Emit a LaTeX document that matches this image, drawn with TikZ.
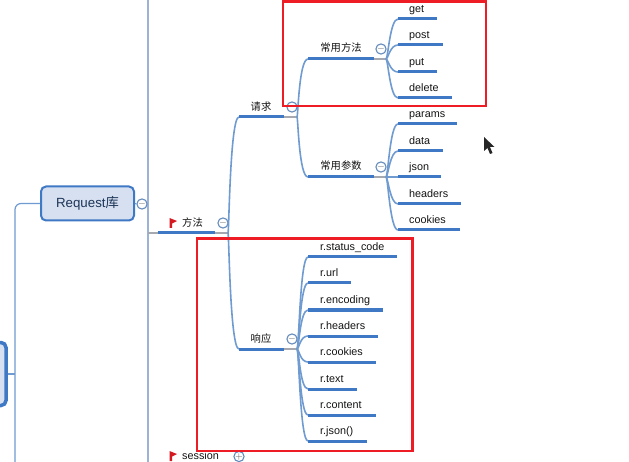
\documentclass[tikz,border=0pt]{standalone}
\usepackage{fontspec}
\setmainfont{Liberation Sans}
\newfontfamily\cjk{Noto Sans CJK SC}
\definecolor{branchblue}{HTML}{6F9BD0}
\definecolor{linkblue}{HTML}{3F79C6}
\definecolor{spineblue}{HTML}{9DB3D6}
\definecolor{stubgray}{HTML}{A5A8AE}
\definecolor{boxred}{HTML}{EE1C25}
\definecolor{boxfill}{HTML}{D6E0F0}
\definecolor{inktext}{HTML}{1D3557}
\tikzset{
    branch/.style={branchblue,line width=1.6pt},
    topline/.style={linkblue,line width=3pt},
    stub/.style={stubgray,line width=1.3pt},
    topic/.style={inner sep=0pt,font=\fontsize{10.8}{13}\selectfont\color{black!92}},
    cntopic/.style={topic,font=\cjk\fontsize{10.3}{13}\selectfont\color{black!92}},
    fold/.style={circle,draw=branchblue!90!black,line width=1.1pt,fill=white,minimum size=10pt,inner sep=0pt,text=black!65,font=\fontsize{10}{10}\selectfont},
    redbox/.style={boxred,line width=2.8pt},
    flagred/.style={fill=boxred!90!black,draw=none}
}
\begin{document}
\begin{tikzpicture}[x=1pt,y=-1pt]
        \useasboundingbox (0,0) rectangle (629,462);
        \fill[white] (0,0) rectangle (629,462);
        \draw[spineblue,line width=1.3pt] (148,0) -- (148,462);
        \node[draw=linkblue,line width=3.5pt,fill=boxfill,rounded corners=5pt,minimum width=28pt,minimum height=63pt,inner sep=0pt] (root) at (-8,374) {};
        \node[draw=linkblue,line width=2pt,fill=boxfill,rounded corners=5pt,minimum width=93pt,minimum height=34pt,inner sep=0pt,text=inktext,font=\fontsize{13.3}{15}\selectfont] (req) at (87.5,203.5) {\raisebox{-1.5pt}{Request{\cjk 库}}};
        \coordinate (rail) at (15,462);
        \draw[branch,line width=1.2pt,rounded corners=6pt] (req.west) -| (rail);
        \draw[branch,line width=1.2pt] (root.east) -- (root.east -| rail);
        \node[fold] (reqfold) at (142,204) {$-$};
        \draw[branch,line width=1pt] (req.east) -- (reqfold.west);
        % level of the flag topics
        \coordinate (fa) at (158,233); \coordinate (fb) at (215,233); \coordinate (fc) at (228,233);
        \draw[stub] (148,233) -- (fa); \draw[stub] (fb) -- (fc);
        \draw[topline] (fa) -- (fb);
        \foreach\nm/\y in {fang/223,sess/456}{
            \fill[flagred] (169.5,{\y-5}) -- (177,{\y-2}) -- (172,{\y+0.5}) -- (172,{\y+5}) -- (169.5,{\y+5}) -- cycle;
        }
        \node[cntopic,anchor=west] (fang) at (182,223) {方法};
        \node[topic,anchor=west] (sess) at (182,456) {session};
        \node[fold] (fangfold) at (223,223) {$-$};
        \node[fold] (sessfold) at (239,456.5) {$+$};
        % second level
        \foreach\nm/\txt/\y in {qing/请求/117,xiang/响应/349}{
            \coordinate (\nm a) at (239,\y); \coordinate (\nm b) at (284,\y); \coordinate (\nm c) at (297,\y);
            \draw[branch] (fc) .. controls +(1,0) and +(-9,0) .. (\nm a);
            \draw[stub] (\nm b) -- (\nm c);
            \draw[topline] (\nm a) -- (\nm b);
            \node[cntopic] (\nm) at (261,{\y-10}) {\txt};
            \node[fold] (\nm fold) at (292,{\y-10}) {$-$};
        }
        \foreach\nm/\txt/\y in {fa/常用方法/59,can/常用参数/177}{
            \coordinate (\nm a) at (308,\y); \coordinate (\nm b) at (374,\y); \coordinate (\nm c) at (386,\y);
            \draw[branch] (qingc) .. controls +(1,0) and +(-9,0) .. (\nm a);
            \draw[stub] (\nm b) -- (\nm c);
            \draw[topline] (\nm a) -- (\nm b);
            \node[cntopic] (\nm) at (341,{\y-11}) {\txt};
            \node[fold] (\nm fold) at (381,{\y-10}) {$-$};
        }
        % leaves
        \foreach\nm/\txt/\y/\e/\up in {get/get/19/437/fa,post/post/45/443/fa,put/put/72/437/fa,del/delete/98/452/fa,params/params/124/457/can,data/data/151/443/can,json/json/177/441/can,head/headers/204/461/can,cook/cookies/230/460/can}{
            \coordinate (\nm a) at (398,\y); \coordinate (\nm b) at (\e,\y);
            \draw[branch] (\up c) .. controls +(2,0) and +(-8,0) .. (\nm a);
            \draw[topline] (\nm a) -- (\nm b);
            \node[topic,anchor=base west] (\nm) at (409,{\y-6.5}) {\txt};
        }
        \foreach\nm/\txt/\y/\e in {rsc/r.status\_code/257/397,rurl/r.url/283/351,renc/r.encoding/310/383,rhead/r.headers/336/378,rcook/r.cookies/362/376,rtext/r.text/389/357,rcont/r.content/415/376,rjson/r.json()/441/367}{
            \coordinate (\nm a) at (308,\y); \coordinate (\nm b) at (\e,\y);
            \draw[branch] (xiangc) .. controls +(2,0) and +(-8,0) .. (\nm a);
            \draw[topline] (\nm a) -- (\nm b);
            \node[topic,anchor=base west] (\nm) at (320,{\y-6.5}) {\txt};
        }
        \draw[redbox] (283,1.5) rectangle (486,106);
        \draw[redbox] (197,238.5) rectangle (412.5,451);
        \fill[black!85] (484,137) -- (484,151) -- (487.5,148) -- (490,154) -- (492.5,153) -- (490,147) -- (494.5,147) -- cycle;
    \end{tikzpicture}
\end{document}
